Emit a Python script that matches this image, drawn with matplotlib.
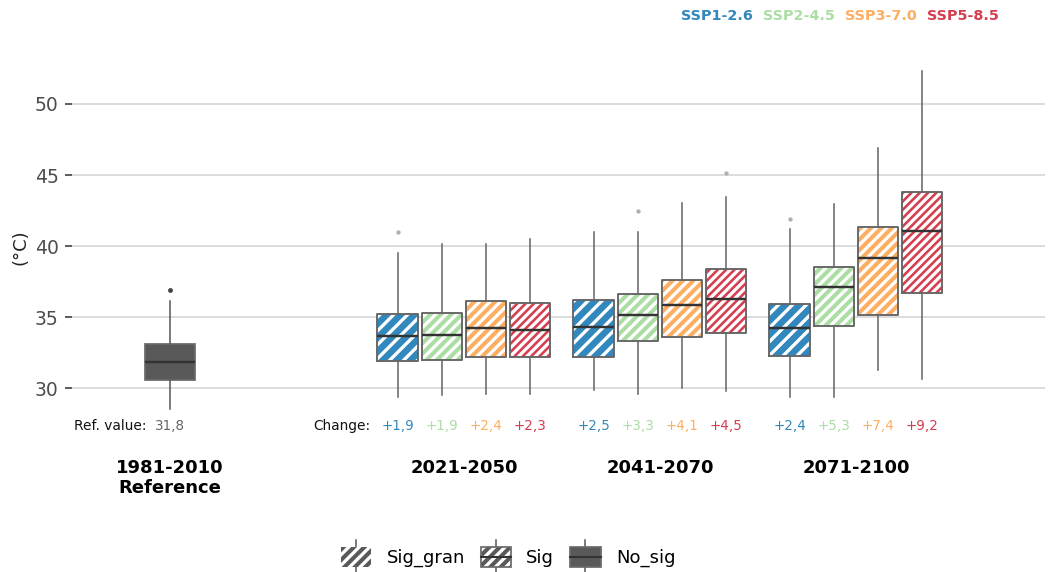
import numpy as np
import matplotlib as mpl
import matplotlib.pyplot as plt
from matplotlib.lines import Line2D
from matplotlib.patches import Rectangle
from matplotlib.legend_handler import HandlerBase

# 125 dpi: hatch tile = 125 px, so '///' ~14 px, '////' ~10 px, '/////' ~8 px stripe spacing
DPI = 125
mpl.rcParams['hatch.linewidth'] = 1.9

scenarios = ["SSP1-2.6", "SSP2-4.5", "SSP3-7.0", "SSP5-8.5"]
colors = ["#3288bd", "#abdda4", "#fdae61", "#d53e4f"]
hatches = ["///", "////", "////", "/////"]
periods = ["2021-2050", "2041-2070", "2071-2100"]

# reference period 1981-2010
ref_stats = dict(whislo=28.5, q1=30.55, med=31.8, q3=33.1, whishi=36.15, fliers=[36.9])
ref_value = 31.8

# rows = periods, columns = scenarios
whislo = [[29.4, 29.5, 29.6, 29.56],
          [29.86, 29.6, 29.98, 29.8],
          [29.39, 29.4, 31.25, 30.65]]
q1 = [[31.9, 32.0, 32.2, 32.18],
      [32.2, 33.29, 33.57, 33.85],
      [32.25, 34.37, 35.16, 36.71]]
med = [[33.66, 33.7, 34.2, 34.06],
       [34.3, 35.14, 35.87, 36.27],
       [34.2, 37.1, 39.18, 41.06]]
q3 = [[35.2, 35.26, 36.15, 35.96],
      [36.2, 36.64, 37.58, 38.36],
      [35.94, 38.52, 41.32, 43.8]]
whishi = [[39.5, 40.14, 40.14, 40.5],
          [41.0, 40.96, 43.05, 43.47],
          [41.2, 42.96, 46.92, 52.3]]
fliers = [[[41.0], [], [], []],
          [[], [42.5], [], [45.12]],
          [[41.9], [], [], []]]
change = [[1.9, 1.9, 2.4, 2.3],
          [2.5, 3.3, 4.1, 4.5],
          [2.4, 5.3, 7.4, 9.2]]

ref_x = 1.0
group_x = np.array([4.0, 6.0, 8.0])
offsets = [-0.675, -0.225, 0.225, 0.675]
box_w = 0.415
text_y = 27.35

key_grey = "#595959"
line_grey = "#666666"

fig = plt.figure(figsize=(1049 / DPI, 572 / DPI), dpi=DPI)
ax = fig.add_axes([72 / 1049, 132 / 572, 973 / 1049, 385 / 572])
ax.set_xlim(0, 9.93)
ax.set_ylim(26.34, 53.45)

# reference box
ax.bxp([ref_stats], positions=[ref_x], widths=0.51, patch_artist=True, showcaps=False,
       manage_ticks=False, zorder=3,
       boxprops=dict(facecolor=key_grey, edgecolor="#6a6a6a", linewidth=1.0),
       whiskerprops=dict(color=key_grey, linewidth=0.9),
       medianprops=dict(color="#333333", linewidth=1.4),
       flierprops=dict(marker="o", markersize=2.8, markerfacecolor="#444444",
                       markeredgecolor="none"))

for j, color in enumerate(colors):
    pos = group_x + offsets[j]
    st = [dict(whislo=whislo[i][j], q1=q1[i][j], med=med[i][j], q3=q3[i][j],
               whishi=whishi[i][j], fliers=fliers[i][j]) for i in range(len(periods))]
    # hatched fill
    ax.bxp(st, positions=pos, widths=box_w, patch_artist=True, showcaps=False,
           showfliers=False, manage_ticks=False, zorder=2,
           boxprops=dict(facecolor=color, edgecolor="white", linewidth=0, hatch=hatches[j]),
           whiskerprops=dict(linestyle="none"), medianprops=dict(linestyle="none"))
    # outline, whiskers, median, outliers
    ax.bxp(st, positions=pos, widths=box_w, showcaps=False, manage_ticks=False, zorder=3,
           boxprops=dict(color=line_grey, linewidth=1.1),
           whiskerprops=dict(color=line_grey, linewidth=0.9),
           medianprops=dict(color="#333333", linewidth=1.4),
           flierprops=dict(marker="o", markersize=2.5, markerfacecolor="#b0b0b0",
                           markeredgecolor="none"))
    for i in range(len(periods)):
        ax.text(pos[i], text_y, f"+{change[i][j]:.1f}".replace(".", ","), color=color,
                fontsize=7.8, ha="center", va="center")

ax.text(ref_x - 0.235, text_y, "Ref. value:", fontsize=7.9, ha="right", va="center", color="#111111")
ax.text(ref_x, text_y, f"{ref_value:.1f}".replace(".", ","), fontsize=7.8, ha="center",
        va="center", color="#666666")
ax.text(group_x[0] + offsets[0] - 0.285, text_y, "Change:", fontsize=7.9, ha="right",
        va="center", color="#111111")

# axes styling
for s in ax.spines.values():
    s.set_visible(False)
ax.set_axisbelow(True)
ax.set_yticks([30, 35, 40, 45, 50])
ax.grid(axis="y", color="#dcdcdc", linewidth=1.15)
ax.tick_params(axis="y", length=3.8, width=0.9, color="#333333", pad=4,
               labelsize=10.8, labelcolor="#4d4d4d")
ax.set_xticks([ref_x, *group_x], ["1981-2010\nReference", *periods])
ax.tick_params(axis="x", length=0, pad=11, labelsize=10.4)
for t in ax.get_xticklabels():
    t.set_fontweight("bold")
    t.set_linespacing(1.15)
ax.set_ylabel("(°C)", fontsize=10.4, color="#222222", labelpad=3)

# scenario colour legend on top
fig.legend([Line2D([], [], linestyle="none") for _ in scenarios], scenarios,
           labelcolor=colors, prop=dict(weight="bold", size=8.3), ncol=4,
           handlelength=0, handletextpad=0, columnspacing=0.7, frameon=False,
           loc="center right", bbox_to_anchor=(999 / 1049, 1 - 16 / 572),
           borderpad=0, borderaxespad=0)


class KeyHandler(HandlerBase):
    def __init__(self, hatched, outline):
        super().__init__()
        self.hatched = hatched
        self.outline = outline

    def create_artists(self, legend, orig_handle, xdescent, ydescent, width, height,
                       fontsize, trans):
        x0, y0 = -xdescent, -ydescent
        cx = x0 + width / 2
        arts = [Line2D([cx, cx], [y0 - 0.3 * height, y0 + 1.3 * height], color=key_grey,
                       lw=0.9, transform=trans)]
        arts.append(Rectangle((x0, y0), width, height, facecolor=key_grey,
                              edgecolor="white" if self.hatched else key_grey, lw=0,
                              hatch="////" if self.hatched else None, transform=trans))
        if self.outline:
            arts.append(Rectangle((x0, y0), width, height, fill=False, edgecolor="#6a6a6a",
                                  lw=1.0, transform=trans))
            arts.append(Line2D([x0, x0 + width], [y0 + height / 2] * 2, color="#333333",
                               lw=1.2, transform=trans))
        return arts


sig_labels = ["Sig_gran", "Sig", "No_sig"]
handles = [Rectangle((0, 0), 1, 1) for _ in sig_labels]
hmap = {handles[0]: KeyHandler(True, False),
        handles[1]: KeyHandler(True, True),
        handles[2]: KeyHandler(False, True)}
fig.legend(handles, sig_labels, handler_map=hmap, ncol=3, fontsize=10.4, frameon=False,
           handlelength=1.7, handleheight=1.4, handletextpad=0.83, columnspacing=0.88,
           loc="center", bbox_to_anchor=(508 / 1049, 1 - 557 / 572), borderpad=0,
           borderaxespad=0)

fig.savefig("out.png", dpi=DPI)
